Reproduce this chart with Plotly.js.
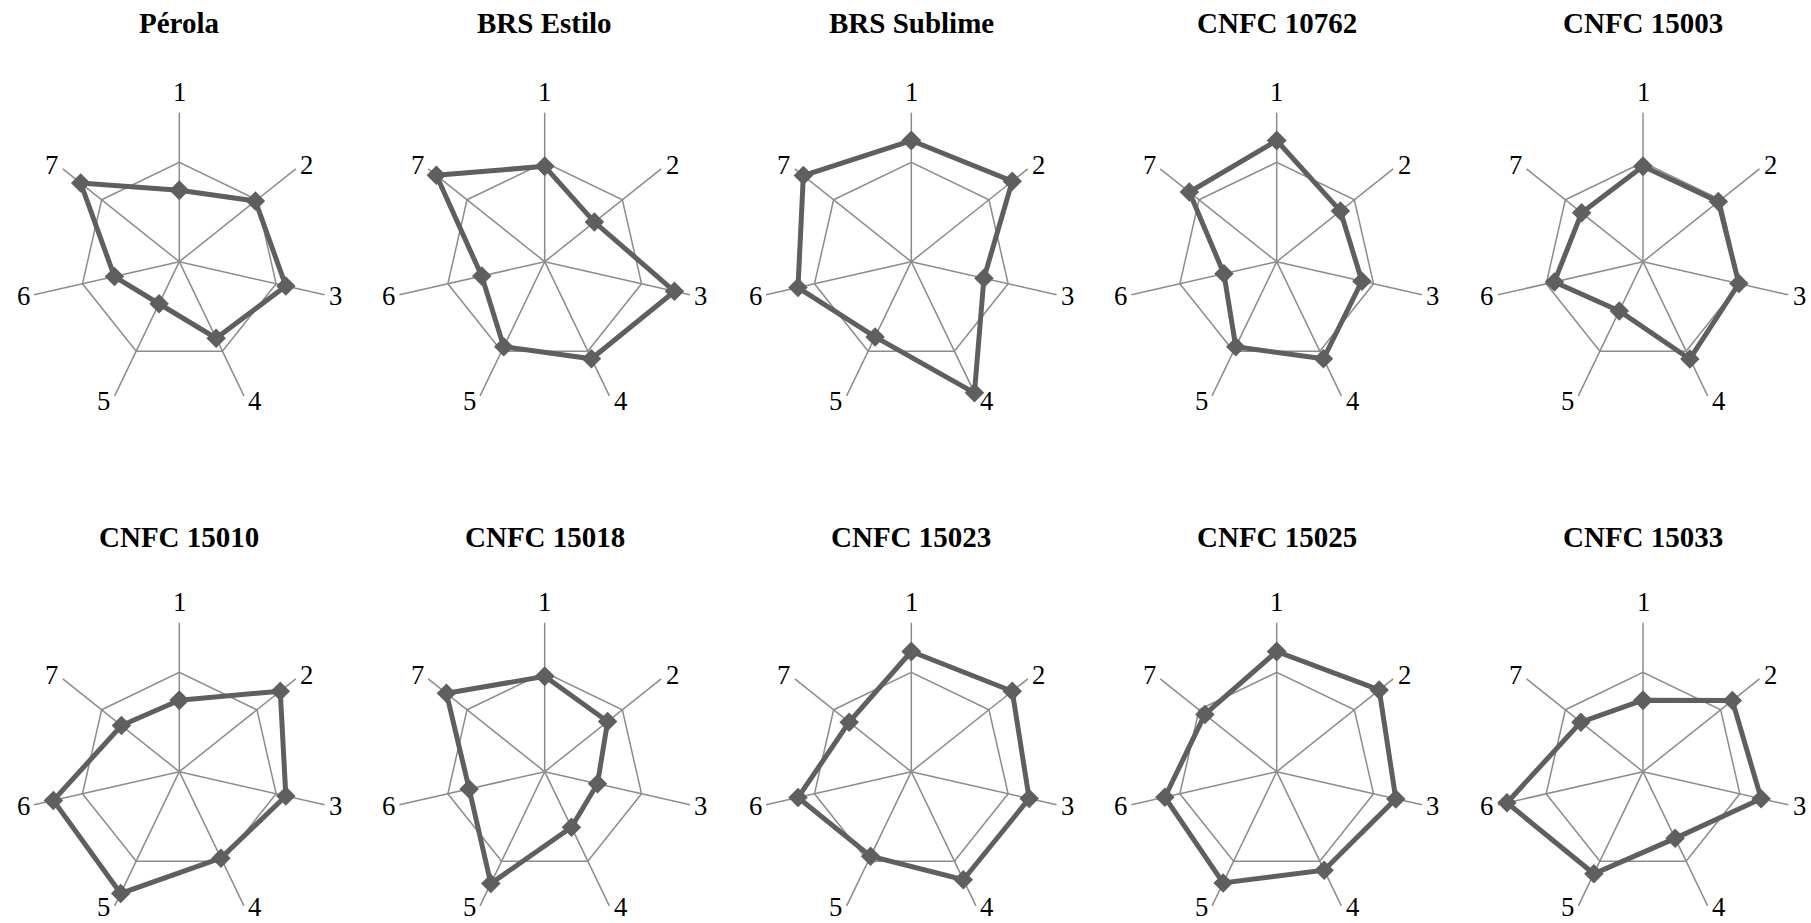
<!DOCTYPE html>
<html>
<head>
<meta charset="utf-8">
<script src="https://cdn.plot.ly/plotly-3.0.1.min.js"></script>
<style>html,body{margin:0;padding:0;background:#fff;}#chart{width:1811px;height:923px;}</style>
</head>
<body>
<div id="chart"></div>
<script>
const categories = ['1','2','3','4','5','6','7'];
const titles = ['Pérola','BRS Estilo','BRS Sublime','CNFC 10762','CNFC 15003',
                'CNFC 15010','CNFC 15018','CNFC 15023','CNFC 15025','CNFC 15033'];
const perola     = [0.72, 0.98, 1.10, 0.855, 0.47, 0.67, 1.27];
const brsEstilo  = [0.96, 0.64, 1.34, 1.085, 0.95, 0.65, 1.395];
const brsSublime = [1.22, 1.30, 0.75, 1.465, 0.84, 1.17, 1.39];
const cnfc10762  = [1.22, 0.82, 0.88, 1.085, 0.95, 0.545, 1.125];
const cnfc15003  = [0.96, 0.97, 0.99, 1.087, 0.55, 0.915, 0.79];
const cnfc15010  = [0.72, 1.30, 1.10, 0.966, 1.36, 1.30, 0.745];
const cnfc15018  = [0.96, 0.81, 0.545, 0.62, 1.25, 0.78, 1.265];
const cnfc15023  = [1.21, 1.30, 1.217, 1.207, 0.945, 1.17, 0.80];
const cnfc15025  = [1.21, 1.32, 1.23, 1.10, 1.243, 1.155, 0.925];
const cnfc15033  = [0.72, 1.15, 1.22, 0.745, 1.14, 1.405, 0.80];
const series = [perola, brsEstilo, brsSublime, cnfc10762, cnfc15003,
                cnfc15010, cnfc15018, cnfc15023, cnfc15025, cnfc15033];

const W = 1811, H = 923, R = 149;
const centersX = [179.3, 544.7, 911.3, 1276.7, 1643];
const centersY = [261.7, 771.7];
const titleY = [23, 537];
const lineColor = '#5f5f5f';
const gridColor = '#8c8c8c';
const serif = '"Liberation Serif", "Times New Roman", serif';
const labelSize = 26.7;

const traces = [];
const layout = {
  width: W, height: H,
  margin: {l:0, r:0, t:0, b:0},
  paper_bgcolor: '#fff',
  showlegend: false,
  font: {family: serif, color: '#000'},
  annotations: []
};

series.forEach((vals, i) => {
  const row = Math.floor(i / 5), col = i % 5;
  const cx = centersX[col], cy = centersY[row];
  const key = i === 0 ? 'polar' : 'polar' + (i + 1);
  traces.push({
    type: 'scatterpolar',
    subplot: key,
    r: vals.concat([vals[0]]),
    theta: categories.concat([categories[0]]),
    mode: 'lines+markers',
    line: {color: lineColor, width: 5},
    marker: {symbol: 'diamond', size: 15, color: lineColor},
    hoverinfo: 'skip'
  });
  layout[key] = {
    domain: {
      x: [(cx - R) / W, (cx + R) / W],
      y: [1 - (cy + R) / H, 1 - (cy - R) / H]
    },
    bgcolor: '#fff',
    gridshape: 'linear',
    radialaxis: {
      range: [0, 1.5], tickvals: [1], showticklabels: false, ticks: '',
      showline: false, showgrid: true, gridcolor: gridColor, gridwidth: 1.5
    },
    angularaxis: {
      type: 'category', categoryarray: categories,
      direction: 'clockwise', rotation: 90,
      showline: false, showgrid: true, gridcolor: gridColor, gridwidth: 1.5,
      ticks: '', showticklabels: false
    }
  };
  // category labels at the outer end of each spoke
  categories.forEach((c, k) => {
    const a = k * 2 * Math.PI / categories.length;
    const dx = Math.sin(a), dy = -Math.cos(a);
    const top = Math.abs(dx) < 0.1;
    const ox = top ? 0 : Math.sign(dx) * 11;
    const oy = top ? -21 : dy * 6;
    let py = cy + R * dy + oy;
    const half = labelSize * 0.6;
    if (py + half > H) py = H - half;   // keep label box inside the page
    layout.annotations.push({
      xref: 'paper', yref: 'paper',
      x: (cx + R * dx + ox) / W, y: 1 - py / H,
      xanchor: 'center', yanchor: 'middle', showarrow: false, borderpad: 0,
      text: c, font: {size: labelSize, color: '#000', family: serif}
    });
  });
  layout.annotations.push({
    xref: 'paper', yref: 'paper', x: cx / W, y: 1 - titleY[row] / H,
    xanchor: 'center', yanchor: 'middle', showarrow: false,
    text: '<b>' + titles[i] + '</b>',
    font: {size: 29, color: '#000', family: serif}
  });
});

Plotly.newPlot('chart', traces, layout, {displayModeBar: false, staticPlot: true});
</script>
</body>
</html>
